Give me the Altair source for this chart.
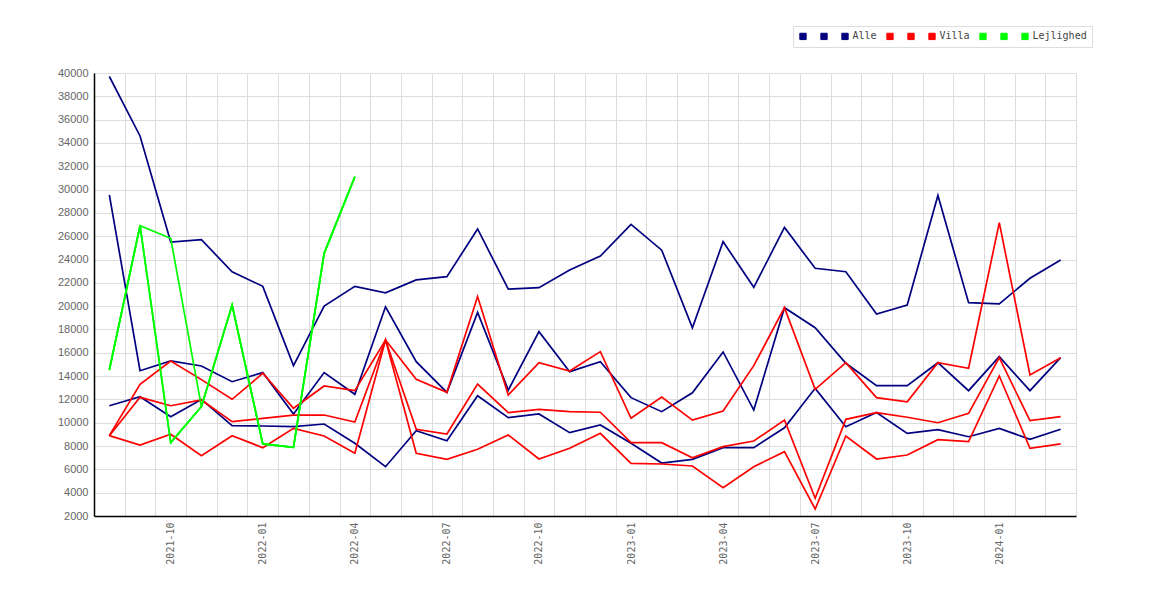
import json
import altair as alt
import pandas as pd

months = ["2021-08", "2021-09", "2021-10", "2021-11", "2021-12",
          "2022-01", "2022-02", "2022-03", "2022-04", "2022-05", "2022-06",
          "2022-07", "2022-08", "2022-09", "2022-10", "2022-11", "2022-12",
          "2023-01", "2023-02", "2023-03", "2023-04", "2023-05", "2023-06",
          "2023-07", "2023-08", "2023-09", "2023-10", "2023-11", "2023-12",
          "2024-01", "2024-02", "2024-03"]

alle_1 = [39700, 34600, 25500, 25700, 22950, 21700, 14900, 20000, 21700, 21150,
          22250, 22530, 26620, 21470, 21590, 23100, 24300, 27020, 24800, 18150,
          25530, 21620, 26750, 23250, 22950, 19330, 20100, 29500, 20300, 20200,
          22390, 23960]
alle_2 = [29550, 14460, 15300, 14870, 13520, 14300, 10750, 14300, 12440, 19950,
          15240, 12600, 19470, 12800, 17810, 14380, 15240, 12150, 10950, 12570,
          16070, 11090, 19870, 18150, 15100, 13180, 13180, 15150, 12750, 15670,
          12750, 15580]
alle_3 = [11460, 12230, 10520, 12000, 9750, 9720, 9660, 9890, 8240, 6230,
          9320, 8460, 12320, 10440, 10750, 9150, 9810, 8240, 6540, 6860,
          7860, 7860, 9570, 12950, 9660, 10870, 9090, 9400, 8800, 9520,
          8580, 9440]

villa_1 = [8890, 13300, 15300, 13700, 12010, 14240, 11240, 13150, 12750, 17100,
           13730, 12610, 20820, 12380, 15150, 14440, 16100, 10380, 12200, 10230,
           11010, 14900, 19870, 12870, 15150, 12150, 11800, 15150, 14670, 27160,
           14100, 15580]
villa_2 = [8890, 12180, 11460, 11950, 10090, 10380, 10660, 10660, 10060, 17100,
           9440, 9030, 13320, 10870, 11150, 10950, 10900, 8290, 8290, 7000,
           7950, 8430, 10230, 3520, 10290, 10870, 10470, 10000, 10810, 15580,
           10180, 10520]
villa_3 = [8890, 8090, 9010, 7170, 8890, 7860, 9520, 8860, 7380, 17100,
           7380, 6860, 7720, 8950, 6890, 7810, 9090, 6520, 6460, 6290,
           4430, 6230, 7520, 2600, 8860, 6890, 7230, 8550, 8380, 14010,
           7810, 8180]

lejlighed_1 = [14520, 26900, 8290, 11380, 20100, 8180, 7890, 24530, 31100]
lejlighed_2 = [14520, 26900, 25820, 11380, 20100, 8180, 7890, 24530, 31100]
lejlighed_3 = [14520, 26900, 8290, 11380, 20100, 8180, 7890, 24530, 31100]

series_names = ["Alle 1", "Alle 2", "Alle",
                "Villa 1", "Villa 2", "Villa",
                "Lejlighed 1", "Lejlighed 2", "Lejlighed"]
series_colors = ["#000080", "#000080", "#000080",
                 "#ff0000", "#ff0000", "#ff0000",
                 "#00ff00", "#00ff00", "#00ff00"]
series_values = [alle_1, alle_2, alle_3, villa_1, villa_2, villa_3,
                 lejlighed_1, lejlighed_2, lejlighed_3]

x_tick_labels = ["2021-10", "2022-01", "2022-04", "2022-07", "2022-10",
                 "2023-01", "2023-04", "2023-07", "2023-10", "2024-01"]
y_ticks = [2000, 4000, 6000, 8000, 10000, 12000, 14000, 16000, 18000, 20000,
           22000, 24000, 26000, 28000, 30000, 32000, 34000, 36000, 38000, 40000]

rows = []
for name, vals in zip(series_names, series_values):
    for m, v in zip(months, vals):
        rows.append({"month": m, "series": name, "value": v})
df = pd.DataFrame(rows)

x_enc = alt.X(
    "month:O",
    sort=months,
    bandPosition=0.5,
    scale=alt.Scale(type="band", domain=months, paddingInner=0, paddingOuter=0),
    axis=alt.Axis(
        title=None,
        tickBand="extent",
        ticks=False,
        grid=True,
        gridColor="#dddddd",
        gridWidth=1,
        domainColor="#000000",
        domainWidth=1.5,
        labelAngle=270,
        labelAlign="right",
        labelBaseline="middle",
        labelPadding=6,
        labelOverlap=False,
        labelFont="DejaVu Sans Mono",
        labelFontSize=10,
        labelColor="#666666",
        labelExpr="indexof(" + json.dumps(x_tick_labels) + ", datum.value) >= 0 ? datum.value : ''",
    ),
)
y_enc = alt.Y(
    "value:Q",
    scale=alt.Scale(domain=[2000, 40000], nice=False, zero=False),
    axis=alt.Axis(
        title=None,
        values=y_ticks,
        format="d",
        ticks=False,
        grid=True,
        gridColor="#dddddd",
        gridWidth=1,
        domainColor="#000000",
        domainWidth=1.5,
        labelPadding=6,
        labelFont="Liberation Sans",
        labelFontSize=11,
        labelColor="#666666",
    ),
)
color_enc = alt.Color(
    "series:N",
    title=None,
    scale=alt.Scale(domain=series_names, range=series_colors),
    legend=alt.Legend(
        orient="none",
        legendX=699,
        legendY=-47,
        direction="horizontal",
        symbolType="square",
        symbolSize=40,
        symbolStrokeColor="#555555",
        symbolStrokeWidth=1,
        symbolOpacity=1,
        labelFont="DejaVu Sans Mono",
        labelFontSize=10,
        labelColor="#444444",
        labelOffset=2.5,
        columnPadding=7,
        padding=5,
        fillColor="#ffffff",
        strokeColor="#dddddd",
        labelExpr="indexof(datum.label, ' ') >= 0 ? ' ' : datum.label",
    ),
)

base = alt.Chart(df).encode(x=x_enc, y=y_enc, color=color_enc)
points = base.mark_point(filled=True, size=0, opacity=1)
lines = base.mark_line(strokeWidth=1.7)

chart = alt.layer(points, lines).properties(
    width=982,
    height=443,
    autosize=alt.AutoSizeParams(type="none"),
    padding={"left": 86, "top": 65, "right": 50, "bottom": 80},
).configure_view(stroke=None)

chart.save("out.html", embed_options={"renderer": "svg", "actions": False})
